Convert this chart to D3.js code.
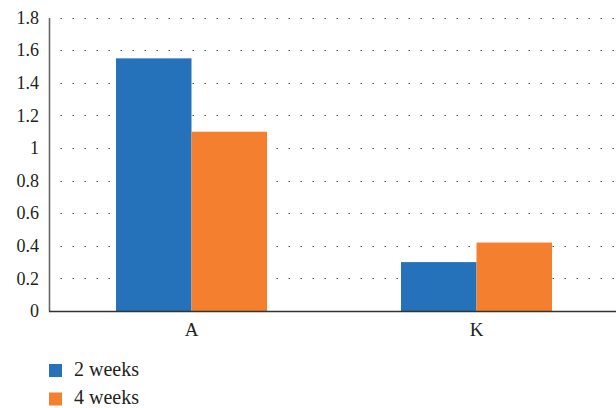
<!DOCTYPE html>
<html>
<head>
<meta charset="utf-8">
<script src="https://cdn.jsdelivr.net/npm/d3@7/dist/d3.min.js"></script>
<style>
  html, body { margin: 0; padding: 0; background: #fff; }
  svg { display: block; }
</style>
</head>
<body>
<svg id="chart" width="616" height="408"></svg>
<script>
// Chart data
const categories = ["A", "K"];
const seriesNames = ["2 weeks", "4 weeks"];
const weeks2 = [1.55, 0.3];
const weeks4 = [1.1, 0.42];
const yTicks = [0, 0.2, 0.4, 0.6, 0.8, 1, 1.2, 1.4, 1.6, 1.8];
const colors = ["#2672ba", "#f47f2e"];

const serif = "'Liberation Serif', 'DejaVu Serif', serif";
const ink = "#231f20";

const svg = d3.select("#chart");
const plotLeft = 49, plotRight = 619, plotTop = 17.6, plotBottom = 311;

const x = d3.scaleBand().domain(categories).range([plotLeft, plotRight])
  .paddingInner(0.47).paddingOuter(0.235);
const xs = d3.scaleBand().domain(seriesNames).range([0, x.bandwidth()]);
const y = d3.scaleLinear().domain([0, 1.8]).range([plotBottom, plotTop]);

// Dotted gridlines
svg.append("g").selectAll("line")
  .data(yTicks.filter(d => d > 0))
  .join("line")
  .attr("x1", plotLeft + 11.5).attr("x2", 616)
  .attr("y1", d => Math.round(y(d)) + 0.5).attr("y2", d => Math.round(y(d)) + 0.5)
  .attr("stroke", "#555")
  .attr("stroke-width", 1.2)
  .attr("stroke-dasharray", "1.5 10.5");

// Bars
const rows = categories.map((c, i) => ({ cat: c, vals: [weeks2[i], weeks4[i]] }));
svg.append("g").selectAll("g")
  .data(rows)
  .join("g")
  .attr("transform", d => `translate(${x(d.cat)},0)`)
  .selectAll("rect")
  .data(d => d.vals.map((v, j) => ({ name: seriesNames[j], v, j })))
  .join("rect")
  .attr("x", d => xs(d.name))
  .attr("width", xs.bandwidth())
  .attr("y", d => y(d.v))
  .attr("height", d => y(0) - y(d.v))
  .attr("fill", d => colors[d.j]);

// Y axis
const yAxis = svg.append("g")
  .attr("transform", `translate(${plotLeft},0)`)
  .call(d3.axisLeft(y).tickValues(yTicks).tickSize(0).tickPadding(10)
    .tickFormat(d => d3.format("~g")(d)))
  .attr("font-family", serif)
  .attr("font-size", 18);
yAxis.select(".domain").attr("stroke", "#666").attr("stroke-width", 1.6);
yAxis.selectAll("text").attr("fill", ink);

// X axis
const xAxis = svg.append("g")
  .attr("transform", `translate(0,${plotBottom})`)
  .call(d3.axisBottom(x).tickSize(0))
  .attr("font-family", serif)
  .attr("font-size", 19);
xAxis.select(".domain").attr("stroke", "#333").attr("stroke-width", 1.6)
  .attr("d", `M${plotLeft},0.5H616`);
xAxis.selectAll("text").attr("fill", ink).attr("y", 25).attr("dy", null);

// Legend
const legend = svg.append("g")
  .attr("font-family", serif)
  .attr("font-size", 20)
  .selectAll("g")
  .data(seriesNames)
  .join("g")
  .attr("transform", (d, i) => `translate(49,${364 + i * 28.5})`);
legend.append("rect").attr("width", 13).attr("height", 13)
  .attr("fill", (d, i) => colors[i]);
legend.append("text").attr("x", 25).attr("y", 11.5)
  .attr("fill", ink).text(d => d);
</script>
</body>
</html>
